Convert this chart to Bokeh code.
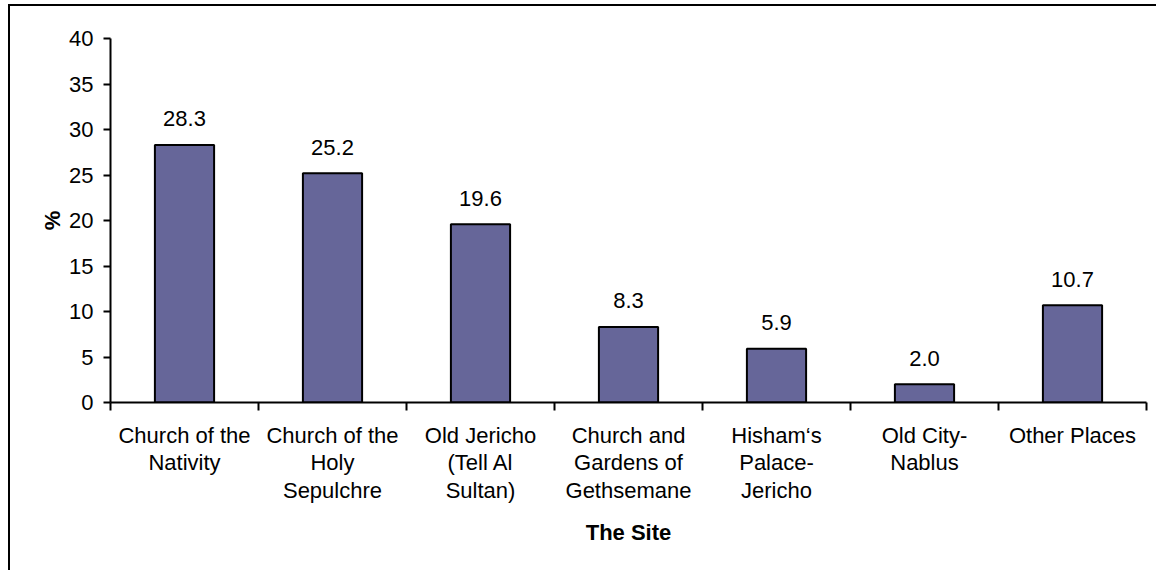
import numpy as np
from bokeh.plotting import figure
from bokeh.models import Range1d, FixedTicker, ColumnDataSource
from bokeh.core.properties import value
from bokeh.embed import file_html
from bokeh.resources import INLINE

sites = [
    "Church of the\nNativity",
    "Church of the\nHoly\nSepulchre",
    "Old Jericho\n(Tell Al\nSultan)",
    "Church and\nGardens of\nGethsemane",
    "Hisham\u2018s\nPalace-\nJericho",
    "Old City-\nNablus",
    "Other Places",
]
percent = [28.3, 25.2, 19.6, 8.3, 5.9, 2.0, 10.7]
y_ticks = [0, 5, 10, 15, 20, 25, 30, 35, 40]

FONT = "Liberation Sans"
FS = "22px"

n = len(sites)
centers = list(np.arange(n) + 0.5)
bounds = list(np.arange(n + 1).astype(float))

src = ColumnDataSource(dict(x=centers, y=percent, lab=["%.1f" % v for v in percent]))

p = figure(width=1148, height=566, output_backend="svg", toolbar_location=None,
           x_range=Range1d(0, n), y_range=Range1d(0, 40),
           min_border_left=100, min_border_right=12, min_border_top=32, min_border_bottom=170)
p.styles = {"margin-left": "8px", "margin-top": "4px",
            "border-left": "2px solid black", "border-top": "2px solid black"}
p.outline_line_color = None
p.xgrid.grid_line_color = None
p.ygrid.grid_line_color = None

p.vbar(x="x", top="y", width=0.4, bottom=0, source=src,
       fill_color="#666699", line_color="black", line_width=2)
p.text(x="x", y="y", text="lab", source=src, text_align="center",
       text_baseline="alphabetic", y_offset=-26,
       text_font=value(FONT), text_font_size=FS, text_color="black")

xa = p.xaxis[0]
xa.ticker = FixedTicker(ticks=centers, minor_ticks=bounds)
xa.major_label_overrides = {c: s for c, s in zip(centers, sites)}
xa.major_tick_out = 0
xa.major_tick_in = 0
xa.minor_tick_out = 8
xa.minor_tick_in = 0
xa.minor_tick_line_color = "black"
xa.minor_tick_line_width = 2
xa.axis_line_width = 2
xa.axis_line_color = "black"
xa.major_label_text_font = FONT
xa.major_label_text_font_size = FS
xa.major_label_text_color = "black"
xa.major_label_text_line_height = 1.11
xa.major_label_standoff = 12
xa.axis_label = "The Site"
xa.axis_label_text_font = FONT
xa.axis_label_text_font_size = FS
xa.axis_label_text_font_style = "bold"
xa.axis_label_text_color = "black"
xa.axis_label_standoff = 14

ya = p.yaxis[0]
ya.ticker = FixedTicker(ticks=y_ticks)
ya.minor_tick_line_color = None
ya.major_tick_out = 7
ya.major_tick_in = 0
ya.major_tick_line_width = 2
ya.major_tick_line_color = "black"
ya.axis_line_width = 2
ya.axis_line_color = "black"
ya.major_label_text_font = FONT
ya.major_label_text_font_size = FS
ya.major_label_text_color = "black"
ya.major_label_standoff = 10
ya.axis_label = "%"
ya.axis_label_text_font = FONT
ya.axis_label_text_font_size = FS
ya.axis_label_text_font_style = "bold"
ya.axis_label_text_color = "black"
ya.axis_label_standoff = 1

open("out.html", "w").write(file_html(p, INLINE))
